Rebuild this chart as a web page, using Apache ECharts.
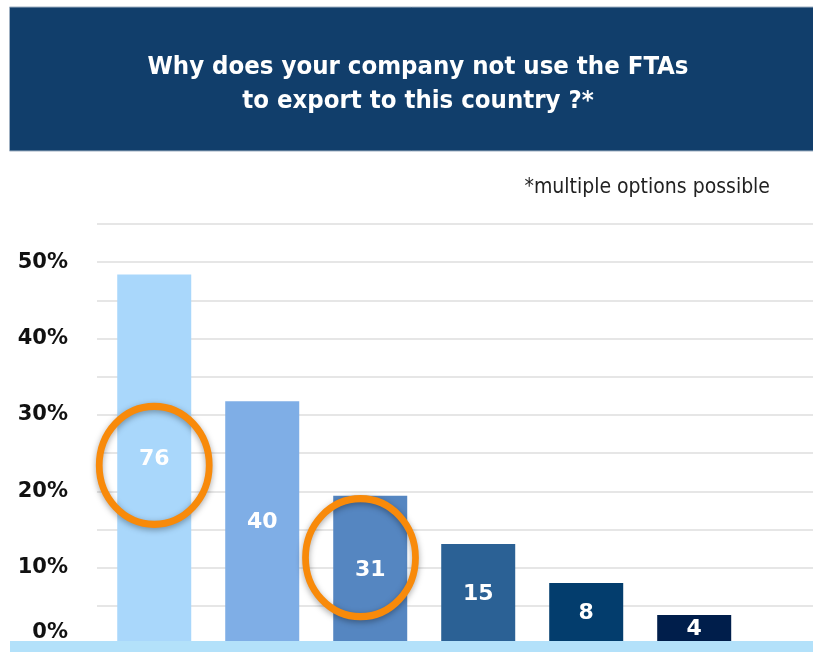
<!DOCTYPE html>
<html>
<head>
<meta charset="utf-8">
<script src="https://cdn.jsdelivr.net/npm/echarts@6/dist/echarts.min.js"></script>
<style>html,body{margin:0;padding:0;background:#fff}#c{width:813px;height:652px}</style>
</head>
<body>
<div id="c"></div>
<script>
// Data
var positions = [0, 1, 2, 3, 4, 5];
var percentages = [48.4, 31.8, 19.4, 13.1, 8.0, 3.8];
var counts = [76, 40, 31, 15, 8, 4];
var barColors = ['#A9D7FB', '#7FAEE6', '#5586C1', '#2B6195', '#033D6D', '#001E4B'];
var yTicks = [0, 10, 20, 30, 40, 50];
var highlighted = [{ index: 0, value: 23.4, dx: 0 }, { index: 2, value: 11.3, dx: -0.09 }];

var chart = echarts.init(document.getElementById('c'), null, { renderer: 'canvas' });

var barData = positions.map(function (p, i) {
  return { value: [p, percentages[i]], itemStyle: { color: barColors[i] } };
});

var option = {
  animation: false,
  backgroundColor: '#ffffff',
  graphic: [
    { type: 'rect', z: 0, shape: { x: 9.5, y: 7, width: 804, height: 144 },
      style: { fill: '#113E6B', stroke: '#9FB0C2', lineWidth: 1 } },
    { type: 'rect', z: 10, shape: { x: 10, y: 641, width: 803, height: 11 },
      style: { fill: '#B3E1FA' } }
  ],
  title: [
    { text: 'Why does your company not use the FTAs\nto export to this country ?*',
      left: 413, top: 45, textAlign: 'center', z: 20,
      textStyle: { color: '#ffffff', fontSize: 25.5, fontWeight: 'bold', lineHeight: 34,
        fontFamily: '"DejaVu Sans Condensed", "Liberation Sans Narrow", sans-serif' } },
    { text: '*multiple options possible', right: 38, top: 171,
      textStyle: { color: '#222222', fontSize: 21, fontWeight: 'normal', lineHeight: 24,
        fontFamily: '"DejaVu Sans Condensed", "Liberation Sans Narrow", sans-serif' } }
  ],
  grid: { left: 97, right: 0, top: 224, bottom: 8, containLabel: false },
  xAxis: {
    type: 'value', min: -0.53, max: 6.1,
    axisLine: { show: false }, axisTick: { show: false },
    axisLabel: { show: false }, splitLine: { show: false }
  },
  yAxis: {
    type: 'value', min: 0, max: 55, interval: 5,
    axisLine: { show: false }, axisTick: { show: false },
    splitLine: { show: true, lineStyle: { color: '#DEDEDE', width: 1.6 } },
    axisLabel: {
      margin: 29, color: '#111111', fontSize: 21, fontWeight: 'bold',
      fontFamily: '"DejaVu Sans", sans-serif',
      formatter: function (v) {
        if (yTicks.indexOf(v) < 0) return '';
        if (v === 0) return '{z|0%}';
        return v + '%';
      },
      rich: {
        z: { color: '#111111', fontSize: 21, fontWeight: 'bold',
          fontFamily: '"DejaVu Sans", sans-serif', padding: [0, 0, 22, 0] }
      }
    }
  },
  series: [{
    type: 'bar',
    data: barData,
    barWidth: 74,
    label: {
      show: true, position: 'inside', color: '#ffffff', fontSize: 22, fontWeight: 'bold',
      fontFamily: '"DejaVu Sans", sans-serif',
      formatter: function (p) { return String(counts[p.dataIndex]); }
    },
    markPoint: {
      symbol: 'circle',
      symbolSize: [110, 118],
      label: { show: false },
      itemStyle: { color: 'rgba(0,0,0,0)', borderColor: '#F88A0A', borderWidth: 7,
        shadowBlur: 6, shadowColor: 'rgba(0,0,0,0.35)', shadowOffsetY: 2 },
      data: highlighted.map(function (h) {
        return { coord: [positions[h.index] + h.dx, h.value] };
      })
    }
  }]
};
chart.setOption(option);
</script>
</body>
</html>
